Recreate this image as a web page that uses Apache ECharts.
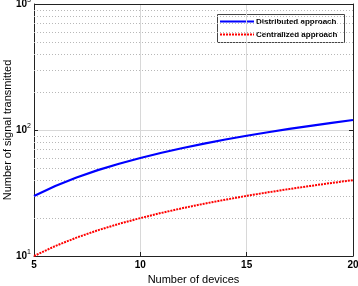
<!DOCTYPE html>
<html>
<head>
<meta charset="utf-8">
<script src="https://cdn.jsdelivr.net/npm/echarts@6/dist/echarts.min.js"></script>
<style>
  html, body { margin: 0; padding: 0; background: #fff; }
  #chart { width: 358px; height: 286px; }
</style>
</head>
<body>
<div id="chart"></div>
<script>
// ---- data ----
var devices = [5, 6, 7, 8, 9, 10, 11, 12, 13, 14, 15, 16, 17, 18, 19, 20];
var distributed = [30, 36, 42, 48, 54, 60, 66, 72, 78, 84, 90, 96, 102, 108, 114, 120];
var centralized = [10, 12, 14, 16, 18, 20, 22, 24, 26, 28, 30, 32, 34, 36, 38, 40];
var minorGrid = [20, 30, 40, 50, 60, 70, 80, 90, 200, 300, 400, 500, 600, 700, 800, 900];
var seriesNames = ['Distributed approach', 'Centralized approach'];

var FONT = 'Liberation Sans, Arial, sans-serif';
var BLUE = '#0000ff', RED = '#ff0000';

function pairs(ys) {
  return devices.map(function(x, i) { return [x, ys[i]]; });
}

var chart = echarts.init(document.getElementById('chart'));

// legend drawn as a small box, like the MATLAB one
var legendBox = {
  type: 'group', left: 217, top: 14, z: 20,
  children: [
    { type: 'rect', shape: { x: 0.5, y: 0.5, width: 127, height: 28 },
      style: { fill: '#fff', stroke: '#444', lineWidth: 1 } },
    { type: 'line', shape: { x1: 3, y1: 7.5, x2: 37, y2: 7.5 },
      style: { stroke: BLUE, lineWidth: 2 } },
    { type: 'text', x: 39, y: 8,
      style: { text: seriesNames[0], font: 'bold 8px ' + FONT, fill: '#000', verticalAlign: 'middle' } },
    { type: 'line', shape: { x1: 3, y1: 20.5, x2: 37, y2: 20.5 },
      style: { stroke: RED, lineWidth: 2, lineDash: [2, 1] } },
    { type: 'text', x: 39, y: 21,
      style: { text: seriesNames[1], font: 'bold 8px ' + FONT, fill: '#000', verticalAlign: 'middle' } }
  ]
};

chart.setOption({
  animation: false,
  backgroundColor: '#fff',
  grid: { left: 34, right: 5, top: 4, bottom: 30, outerBoundsMode: 'none', containLabel: false },
  xAxis: {
    type: 'value', min: 5, max: 20, interval: 5,
    name: 'Number of devices', nameLocation: 'middle', nameGap: 17,
    nameTextStyle: { fontFamily: FONT, fontSize: 11, color: '#000' },
    axisLine: { onZero: false, lineStyle: { color: '#222', width: 1 } },
    axisTick: { inside: true, length: 4, lineStyle: { color: '#222' } },
    axisLabel: { fontFamily: FONT, fontSize: 10, color: '#000', margin: 4,
      fontWeight: 'bold' },
    splitLine: { show: true, lineStyle: { color: '#d8d8d8', width: 1 } }
  },
  yAxis: [{
    type: 'log', logBase: 10, min: 10, max: 1000,
    name: 'Number of signal transmitted', nameLocation: 'middle', nameGap: 21,
    nameMoveOverlap: false,
    nameTextStyle: { fontFamily: FONT, fontSize: 11, color: '#000' },
    axisLine: { lineStyle: { color: '#222', width: 1 } },
    axisTick: { inside: true, length: 4, lineStyle: { color: '#222' } },
    axisLabel: {
      margin: 3,
      formatter: function(v) {
        return '{b|10}{s|' + Math.round(Math.log10(v)) + '}';
      },
      rich: {
        b: { fontFamily: FONT, fontSize: 10, color: '#000', fontWeight: 'bold' },
        s: { fontFamily: FONT, fontSize: 7, color: '#000', padding: [0, 0, 7, 0] }
      }
    },
    splitLine: { show: true, lineStyle: { color: '#d8d8d8', width: 1 } }
  }, {
    type: 'log', logBase: 10, min: 10, max: 1000, position: 'right',
    axisLine: { show: true, lineStyle: { color: '#222', width: 1 } },
    axisTick: { inside: true, length: 4, lineStyle: { color: '#222' } },
    axisLabel: { show: false },
    splitLine: { show: false }
  }],
  graphic: [{
    type: 'line', z: 10,
    shape: { x1: 34, y1: 4.5, x2: 353, y2: 4.5 },
    style: { stroke: '#222', lineWidth: 1 }
  }, legendBox],
  series: [{
    name: seriesNames[0],
    type: 'line',
    data: pairs(distributed),
    showSymbol: false,
    lineStyle: { color: BLUE, width: 2.2 },
    itemStyle: { color: BLUE },
    z: 5,
    markLine: {
      silent: true,
      symbol: 'none',
      label: { show: false },
      lineStyle: { color: '#b8b8b8', type: [1, 2], width: 1 },
      data: minorGrid.map(function(v) { return { yAxis: v }; })
    }
  }, {
    name: seriesNames[1],
    type: 'line',
    data: pairs(centralized),
    showSymbol: false,
    lineStyle: { color: RED, width: 2, type: [2, 1] },
    itemStyle: { color: RED },
    z: 5
  }]
});
</script>
</body>
</html>
